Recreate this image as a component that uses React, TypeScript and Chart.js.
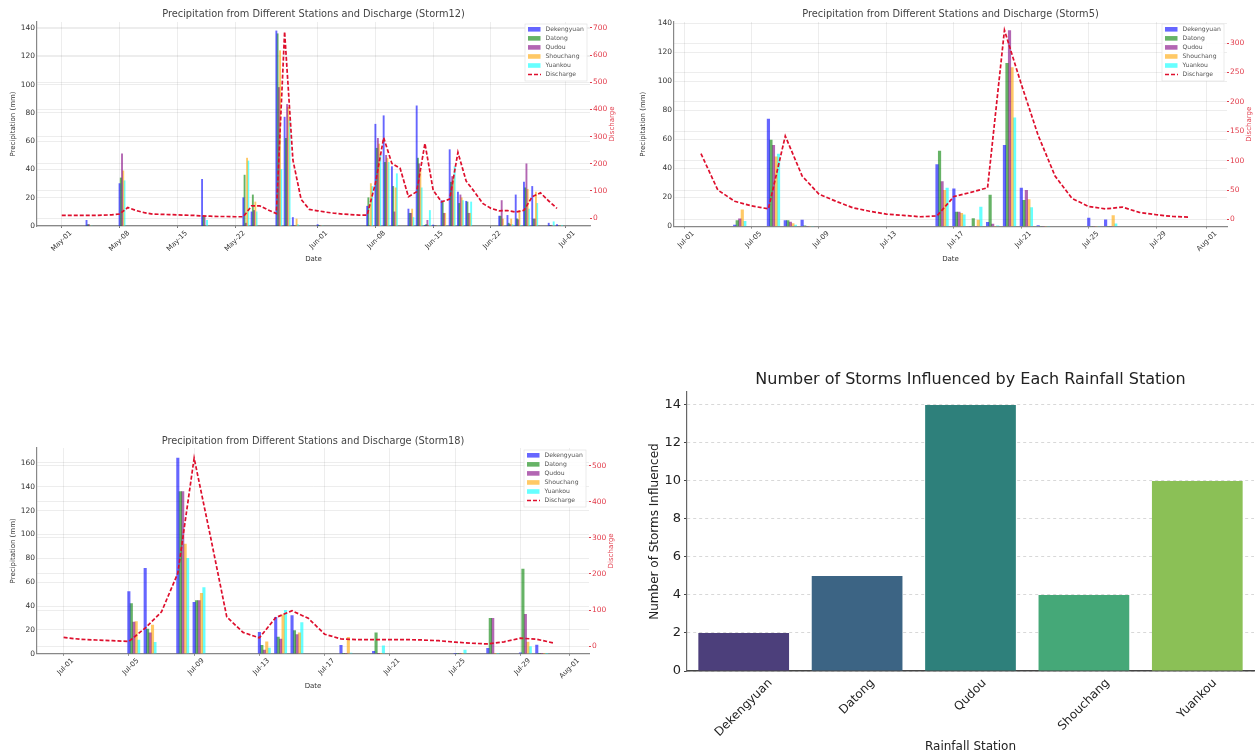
import React, { useEffect, useRef } from "react";
import { Chart, registerables } from "chart.js";

Chart.register(...registerables);

const stationNames = ["Dekengyuan", "Datong", "Qudou", "Shouchang", "Yuankou"];
const stationColors = [
  "rgba(0, 0, 255, 0.6)",
  "rgba(0, 128, 0, 0.6)",
  "rgba(128, 0, 128, 0.6)",
  "rgba(255, 165, 0, 0.6)",
  "rgba(0, 255, 255, 0.6)",
];
const dischargeColor = "rgb(222, 15, 45)";
const dischargeLabelColor = "rgb(226, 60, 75)";

// Days are counted from the first tick label of each storm
const storm12TickDays = [0, 7, 14, 21, 31, 38, 45, 52, 61];
const storm12TickLabels = ["May-01", "May-08", "May-15", "May-22", "Jun-01", "Jun-08", "Jun-15", "Jun-22", "Jul-01"];
const storm12Days = [3, 7, 17, 22, 23, 26, 27, 28, 31, 37, 38, 39, 40, 42, 43, 44, 45, 46, 47, 48, 49, 53, 54, 55, 56, 57, 59, 60];
const storm12Dekengyuan = [4, 30, 33, 20, 10, 138, 77, 6, 1, 14, 72, 78, 42, 12, 85, 0.5, 0.7, 18, 54, 24, 17.5, 7, 7.5, 22, 31, 28, 2, 1];
const storm12Datong = [1, 34, 7, 36, 22, 136, 62, 0, 0.5, 20, 55, 45, 28, 9, 48, 1, 0, 17, 31, 16, 17, 7, 2, 5, 27, 5, 0.5, 0];
const storm12Qudou = [1, 51, 7, 2, 11, 98, 86, 0, 0, 0, 62, 50, 10, 9, 44, 4, 0, 9, 35, 22, 9, 18, 1, 4.5, 44, 5, 0.5, 0];
const storm12Shouchang = [0, 39, 0, 48, 17, 124, 84, 5, 0, 30, 58, 48, 27, 12, 39, 0, 0, 9, 35, 20, 9, 5, 5, 11, 26, 24, 0, 0];
const storm12Yuankou = [0, 32, 4, 46, 10, 40, 75, 1, 0, 28, 50, 45, 37, 6, 27, 11, 0, 0, 42, 18, 17, 0, 1, 0.5, 12, 16, 3, 0.5];
const storm12Discharge = [
  10, 10, 10, 10, 10, 11, 12, 15, 39, 28, 20, 15, 14, 13, 12, 11, 10, 8, 7, 6, 6, 5, 5, 45, 45, 30, 17, 686, 215, 69, 32,
  27, 22, 18, 15, 13, 11, 11, 128, 296, 201, 183, 79, 97, 275, 103, 60, 70, 242, 136, 97, 54, 36, 27, 28, 22, 29, 79, 93, 63, 36,
];
const storm12LeftTicks = [0, 20, 40, 60, 80, 100, 120, 140];
const storm12RightTicks = [0, 100, 200, 300, 400, 500, 600, 700];

const storm5TickDays = [0, 4, 8, 12, 16, 20, 24, 28, 31];
const storm5TickLabels = ["Jul-01", "Jul-05", "Jul-09", "Jul-13", "Jul-17", "Jul-21", "Jul-25", "Jul-29", "Aug-01"];
const storm5Days = [3, 5, 6, 7, 15, 16, 17, 18, 19, 20, 21, 24, 25];
const storm5Dekengyuan = [1, 74, 4, 4.4, 42.7, 26, 0, 2.8, 56, 26.5, 0.7, 5.8, 4.6];
const storm5Datong = [4, 59.5, 4, 0.5, 52, 10, 5.5, 21.7, 112.5, 18, 0, 0, 0];
const storm5Qudou = [5.3, 56, 3, 0, 31, 10, 0, 1.6, 135, 25, 0, 0, 0];
const storm5Shouchang = [11.5, 48, 2, 0, 25, 9, 4.4, 0, 109.5, 18.5, 0, 0, 7.6];
const storm5Yuankou = [3.5, 50, 1, 0, 26.5, 8, 13.4, 0.5, 75, 13, 0, 0, 1.8];
const storm5DischargeDays = [1, 2, 3, 4, 5, 6, 7, 8, 9, 10, 11, 12, 13, 14, 15, 16, 17, 18, 19, 20, 21, 22, 23, 24, 25, 26, 27, 28, 29, 30];
const storm5Discharge = [112, 50, 31, 23, 18, 142, 74, 43, 31, 20, 14, 9, 7, 4.6, 6, 39, 46, 54, 322, 230, 143, 74, 36, 22, 18, 21, 12, 8, 5, 4];
const storm5LeftTicks = [0, 20, 40, 60, 80, 100, 120, 140];
const storm5RightTicks = [0, 50, 100, 150, 200, 250, 300];

const storm18TickDays = [0, 4, 8, 12, 16, 20, 24, 28, 31];
const storm18TickLabels = ["Jul-01", "Jul-05", "Jul-09", "Jul-13", "Jul-17", "Jul-21", "Jul-25", "Jul-29", "Aug-01"];
const storm18Days = [4, 5, 7, 8, 12, 13, 14, 17, 19, 24, 26, 28, 29];
const storm18Dekengyuan = [52, 71.5, 164, 43, 18, 30.5, 32, 7, 2, 0, 4.5, 0.8, 7.3];
const storm18Datong = [42, 20.7, 136, 44.5, 7, 14, 19.3, 0, 17.6, 0, 29.7, 70.9, 0];
const storm18Qudou = [26.5, 17.6, 136, 44.5, 3, 12.3, 16, 0, 0, 0, 29.7, 33, 0];
const storm18Shouchang = [27, 24, 92, 50.7, 10, 32.5, 17.6, 13.7, 0, 0, 0, 9.8, 0];
const storm18Yuankou = [11.5, 9.5, 80, 55.5, 4.8, 36.4, 26, 0.5, 6.7, 3, 0, 6, 0];
const storm18DischargeDays = [0, 1, 2, 3, 4, 5, 6, 7, 8, 9, 10, 11, 12, 13, 14, 15, 16, 17, 18, 19, 20, 21, 22, 23, 24, 25, 26, 27, 28, 29, 30];
const storm18Discharge = [24, 19, 17, 15, 13, 50, 95, 202, 521, 304, 81, 38, 23, 79, 98, 77, 33, 20, 18, 18, 18, 18, 17, 15, 11, 8, 6, 12, 22, 19, 9];
const storm18LeftTicks = [0, 20, 40, 60, 80, 100, 120, 140, 160];
const storm18RightTicks = [0, 100, 200, 300, 400, 500];

const influenceCounts = [2, 5, 14, 4, 10];
const influenceColors = ["#4c3f7b", "#3c6484", "#2e807b", "#45a878", "#8bc056"];
const influenceTicks = [0, 2, 4, 6, 8, 10, 12, 14];

const fontFamily = "'DejaVu Sans'";

// legend sits inside the plot at the top right, chart.js can't place it there
const cornerLegend = {
  id: "cornerLegend",
  afterDatasetsDraw(chart: any) {
    const { ctx, chartArea } = chart;
    const left = chartArea.right - 65;
    const top = chartArea.top + 2;
    ctx.save();
    ctx.fillStyle = "rgba(255,255,255,0.85)";
    ctx.strokeStyle = "#e2e2e2";
    ctx.lineWidth = 0.7;
    ctx.fillRect(left, top, 62, 57);
    ctx.strokeRect(left, top, 62, 57);
    ctx.font = `6.1px ${fontFamily}`;
    ctx.textBaseline = "middle";
    chart.data.datasets.forEach((ds: any, i: number) => {
      const rowY = top + 5.3 + i * 9.05;
      if (ds.type === "line") {
        ctx.strokeStyle = ds.borderColor;
        ctx.lineWidth = 1.4;
        ctx.setLineDash([4, 2]);
        ctx.beginPath();
        ctx.moveTo(left + 3, rowY);
        ctx.lineTo(left + 16, rowY);
        ctx.stroke();
        ctx.setLineDash([]);
      } else {
        ctx.fillStyle = ds.backgroundColor;
        ctx.fillRect(left + 3, rowY - 2.3, 12.5, 4.6);
      }
      ctx.fillStyle = "#555555";
      ctx.fillText(ds.label, left + 20.5, rowY);
    });
    ctx.restore();
  },
};

// right axis title reads bottom to top here, the scale title would flip it
const dischargeTitle = {
  id: "dischargeTitle",
  afterDraw(chart: any) {
    const { ctx, chartArea } = chart;
    ctx.save();
    ctx.translate(chartArea.right + 22.5, (chartArea.top + chartArea.bottom) / 2);
    ctx.rotate(-Math.PI / 2);
    ctx.font = `7px ${fontFamily}`;
    ctx.fillStyle = dischargeLabelColor;
    ctx.textAlign = "center";
    ctx.textBaseline = "middle";
    ctx.fillText("Discharge", 0, 0);
    ctx.restore();
  },
};

// station labels are centred under their bar while rotated, ticks can't do that per label
const stationLabels = {
  id: "stationLabels",
  afterDraw(chart: any) {
    const { ctx, scales } = chart;
    ctx.save();
    ctx.font = `12px ${fontFamily}`;
    ctx.fillStyle = "#222222";
    ctx.textAlign = "center";
    ctx.textBaseline = "middle";
    stationNames.forEach((name, i) => {
      const half = ((ctx.measureText(name).width + 12) * Math.SQRT1_2) / 2;
      ctx.save();
      ctx.translate(scales.x.getPixelForTick(i), scales.x.top + 6 + half);
      ctx.rotate(-Math.PI / 4);
      ctx.fillText(name, 0, 0);
      ctx.restore();
    });
    ctx.restore();
  },
};

interface StormProps {
  title: string;
  left: number;
  top: number;
  width: number;
  height: number;
  plotLeft: number;
  plotRight: number;
  plotTop: number;
  plotBottom: number;
  titleTop: number;
  xRange: number[];
  leftMax: number;
  rightRange: number[];
  tickDays: number[];
  tickLabels: string[];
  leftTicks: number[];
  rightTicks: number[];
  days: number[];
  series: number[][];
  dischargeDays: number[];
  discharge: number[];
}

const StormChart = (props: StormProps) => {
  const chartRef = useRef<HTMLCanvasElement>(null);

  useEffect(() => {
    if (!chartRef.current) return;
    const p = props;
    const gridColor = "rgba(0, 0, 0, 0.07)";
    const chart = new Chart(chartRef.current, {
      type: "bar",
      data: {
        datasets: [
          ...stationNames.map((name, s) => ({
            type: "bar" as const,
            label: name,
            // bars step along by 0.15 day from the date, like the offset groups in the source
            data: p.days.map((d, i) => ({ x: d + s * 0.15, y: p.series[s][i] })),
            backgroundColor: stationColors[s],
            borderWidth: 0,
            grouped: false,
            barPercentage: 1,
            categoryPercentage: 1,
            xAxisID: "x",
            yAxisID: "y",
            order: 1,
          })),
          {
            type: "line" as const,
            label: "Discharge",
            data: p.dischargeDays.map((d, i) => ({ x: d, y: p.discharge[i] })),
            borderColor: dischargeColor,
            borderWidth: 1.7,
            borderDash: [4, 2],
            pointRadius: 0,
            tension: 0,
            xAxisID: "x",
            yAxisID: "y2",
            order: 0,
          },
        ],
      } as any,
      options: {
        responsive: false,
        animation: false,
        devicePixelRatio: 1,
        plugins: {
          legend: { display: false },
          tooltip: { enabled: false },
          title: {
            display: true,
            text: p.title,
            fullSize: false,
            color: "#444444",
            font: { family: fontFamily, size: 9.8, weight: "normal" },
            padding: { top: p.titleTop, bottom: p.plotTop - p.titleTop - 11.76 },
          },
        },
        scales: {
          x: {
            type: "linear",
            offset: false,
            min: p.xRange[0],
            max: p.xRange[1],
            afterBuildTicks: (s: any) => {
              s.ticks = p.tickDays.map((value) => ({ value }));
            },
            afterFit: (s: any) => {
              s.height = p.height - p.plotBottom;
            },
            ticks: {
              autoSkip: false,
              minRotation: 45,
              maxRotation: 45,
              labelOffset: 9,
              padding: 1,
              color: "#333333",
              font: { family: fontFamily, size: 7 },
              callback: (v: any) => p.tickLabels[p.tickDays.indexOf(v)],
            },
            grid: { offset: false, color: gridColor, tickColor: "#777777", tickLength: 2 },
            border: { color: "#888888", width: 1.2 },
            title: {
              display: true,
              text: "Date",
              color: "#333333",
              font: { family: fontFamily, size: 7 },
              padding: { top: 0, bottom: 0 },
            },
          },
          y: {
            position: "left",
            min: 0,
            max: p.leftMax,
            afterBuildTicks: (s: any) => {
              s.ticks = p.leftTicks.map((value) => ({ value }));
            },
            afterFit: (s: any) => {
              s.width = p.plotLeft;
            },
            ticks: { padding: 1, color: "#333333", font: { family: fontFamily, size: 7.5 } },
            grid: { color: gridColor, tickColor: "#777777", tickLength: 1 },
            border: { color: "#888888", width: 1.2 },
            title: {
              display: true,
              text: "Precipitation (mm)",
              color: "#333333",
              font: { family: fontFamily, size: 7 },
              padding: { top: 9, bottom: 0 },
            },
          },
          y2: {
            position: "right",
            min: p.rightRange[0],
            max: p.rightRange[1],
            afterBuildTicks: (s: any) => {
              s.ticks = p.rightTicks.map((value) => ({ value }));
            },
            afterFit: (s: any) => {
              s.width = p.width - p.plotRight;
            },
            ticks: { padding: 1, color: dischargeLabelColor, font: { family: fontFamily, size: 7.5 } },
            grid: { color: gridColor, tickColor: dischargeLabelColor, tickLength: 2 },
            border: { display: false },
          },
        },
      } as any,
      plugins: [cornerLegend, dischargeTitle],
    });
    return () => chart.destroy();
  }, []);

  return (
    <canvas
      ref={chartRef}
      width={props.width}
      height={props.height}
      style={{ position: "absolute", left: props.left, top: props.top, display: "block", filter: "blur(0.35px)" }}
    ></canvas>
  );
};

const InfluenceChart = () => {
  const chartRef = useRef<HTMLCanvasElement>(null);

  useEffect(() => {
    if (!chartRef.current) return;
    const chart = new Chart(chartRef.current, {
      type: "bar",
      data: {
        labels: stationNames,
        datasets: [
          {
            label: "Number of Storms Influenced",
            data: influenceCounts,
            backgroundColor: influenceColors,
            borderWidth: 0,
            barPercentage: 0.8,
            categoryPercentage: 1,
          },
        ],
      },
      options: {
        responsive: false,
        animation: false,
        devicePixelRatio: 1,
        layout: { padding: { right: 5 } },
        plugins: {
          legend: { display: false },
          tooltip: { enabled: false },
          title: {
            display: true,
            text: "Number of Storms Influenced by Each Rainfall Station",
            fullSize: false,
            color: "#222222",
            font: { family: fontFamily, size: 16, weight: "normal" },
            padding: { top: 10.5, bottom: 2.3 },
          },
        },
        scales: {
          x: {
            afterFit: (s: any) => {
              s.height = 85;
            },
            ticks: { display: false },
            grid: { display: false },
            border: { color: "#444444", width: 1.5 },
            title: {
              display: true,
              text: "Rainfall Station",
              color: "#222222",
              font: { family: fontFamily, size: 12 },
              padding: { top: 0, bottom: 2 },
            },
          },
          y: {
            min: 0,
            max: 14.68,
            afterBuildTicks: (s: any) => {
              s.ticks = influenceTicks.map((value) => ({ value }));
            },
            afterFit: (s: any) => {
              s.width = 57;
            },
            ticks: { padding: 3, color: "#222222", font: { family: fontFamily, size: 13 } },
            grid: { color: "#d8d8d8", tickLength: 3, tickColor: "#444444" },
            border: { color: "#666666", width: 1.2, dash: [3, 3] },
            title: {
              display: true,
              text: "Number of Storms Influenced",
              color: "#222222",
              font: { family: fontFamily, size: 12 },
              padding: { top: 18, bottom: 0 },
            },
          },
        },
      } as any,
      plugins: [stationLabels],
    });
    return () => chart.destroy();
  }, []);

  return (
    <canvas
      ref={chartRef}
      width={629}
      height={396}
      style={{ position: "absolute", left: 630, top: 360, display: "block", filter: "blur(0.35px)" }}
    ></canvas>
  );
};

export default function App() {
  return (
    <div style={{ position: "absolute", left: 0, top: 0, width: 1259, height: 756, background: "#fff" }}>
      <StormChart
        title="Precipitation from Different Stations and Discharge (Storm12)"
        left={0}
        top={0}
        width={620}
        height={263}
        plotLeft={37}
        plotRight={590}
        plotTop={22}
        plotBottom={226}
        titleTop={8.5}
        xRange={[-3, 64]}
        leftMax={144.3}
        rightRange={[-29, 722]}
        tickDays={storm12TickDays}
        tickLabels={storm12TickLabels}
        leftTicks={storm12LeftTicks}
        rightTicks={storm12RightTicks}
        days={storm12Days}
        series={[storm12Dekengyuan, storm12Datong, storm12Qudou, storm12Shouchang, storm12Yuankou]}
        dischargeDays={storm12Discharge.map((_, i) => i)}
        discharge={storm12Discharge}
      />
      <StormChart
        title="Precipitation from Different Stations and Discharge (Storm5)"
        left={630}
        top={0}
        width={629}
        height={263}
        plotLeft={44}
        plotRight={597}
        plotTop={22}
        plotBottom={226.5}
        titleTop={8.5}
        xRange={[-0.6, 32.2]}
        leftMax={141}
        rightRange={[-12, 336]}
        tickDays={storm5TickDays}
        tickLabels={storm5TickLabels}
        leftTicks={storm5LeftTicks}
        rightTicks={storm5RightTicks}
        days={storm5Days}
        series={[storm5Dekengyuan, storm5Datong, storm5Qudou, storm5Shouchang, storm5Yuankou]}
        dischargeDays={storm5DischargeDays}
        discharge={storm5Discharge}
      />
      <StormChart
        title="Precipitation from Different Stations and Discharge (Storm18)"
        left={0}
        top={430}
        width={620}
        height={260}
        plotLeft={37}
        plotRight={589}
        plotTop={18}
        plotBottom={223.7}
        titleTop={6}
        xRange={[-1.63, 32.2]}
        leftMax={172.5}
        rightRange={[-21, 549]}
        tickDays={storm18TickDays}
        tickLabels={storm18TickLabels}
        leftTicks={storm18LeftTicks}
        rightTicks={storm18RightTicks}
        days={storm18Days}
        series={[storm18Dekengyuan, storm18Datong, storm18Qudou, storm18Shouchang, storm18Yuankou]}
        dischargeDays={storm18DischargeDays}
        discharge={storm18Discharge}
      />
      <InfluenceChart />
    </div>
  );
}
